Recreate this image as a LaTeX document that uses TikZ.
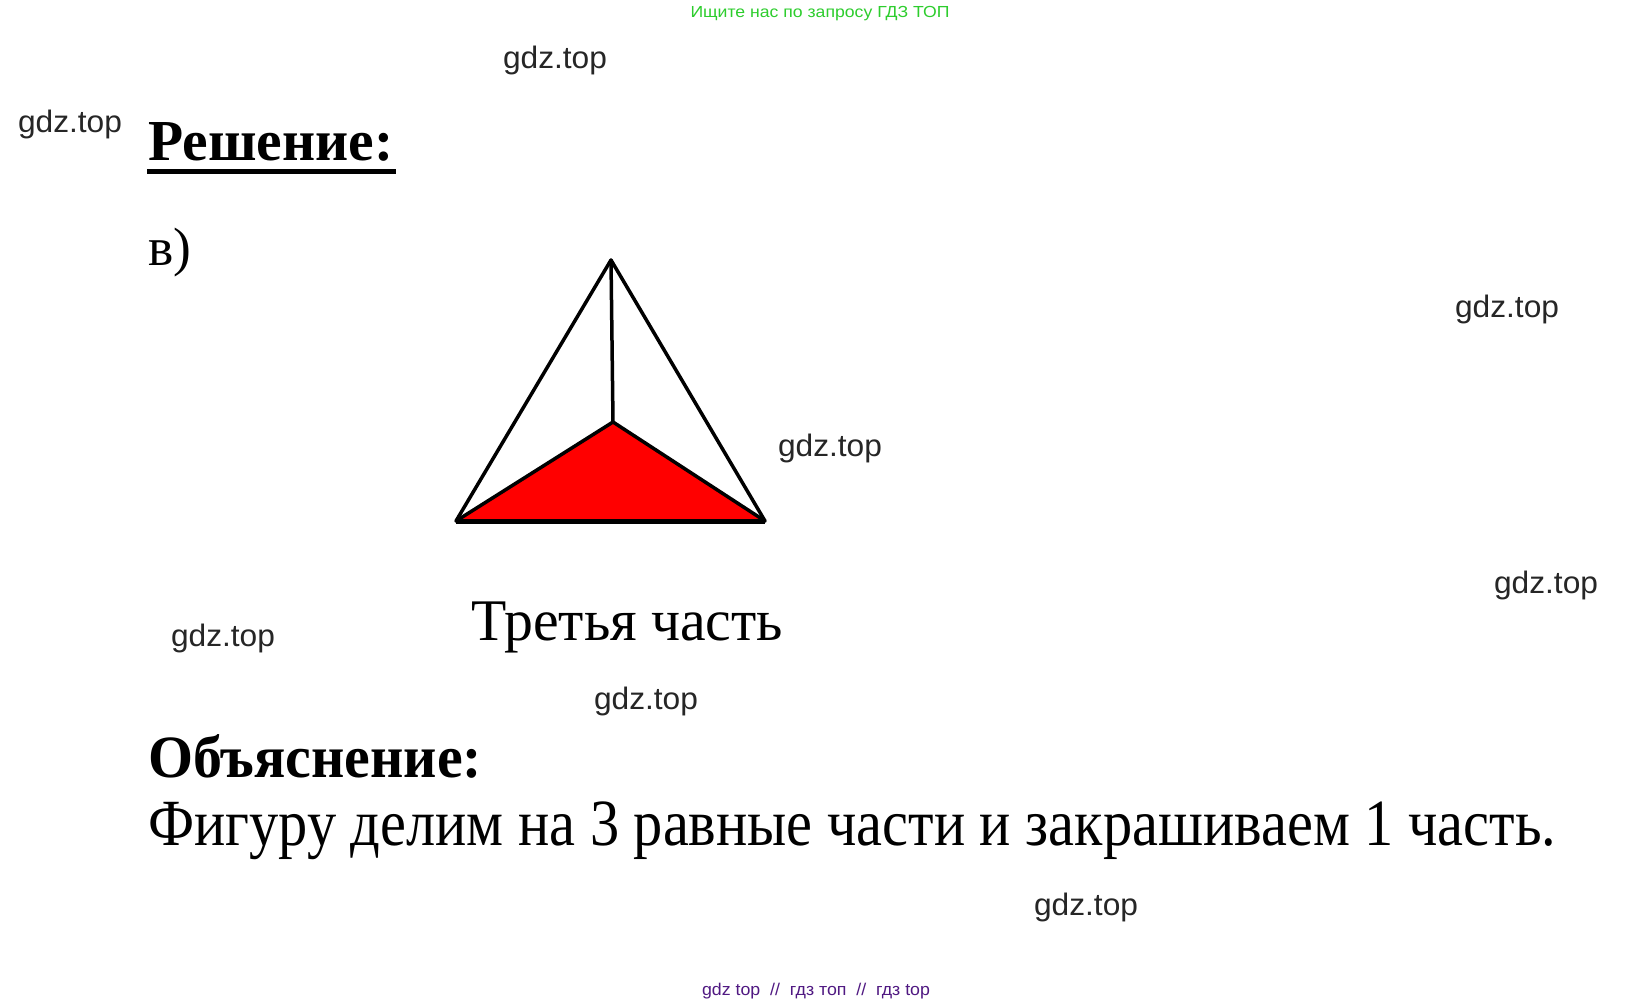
\documentclass[tikz,border=0pt]{standalone}
\usepackage{fontspec}
\setmainfont{Liberation Serif}
\newfontfamily\wmfont{Liberation Sans}
\usepackage{graphicx}
\newcommand\fitw[2]{\setbox0\hbox{#2}\edef\fitsc{\fpeval{#1/\wd0}}\scalebox{\fitsc}[1]{\box0}}
\definecolor{wmgreen}{RGB}{45,205,45}
\definecolor{wmpurple}{RGB}{80,25,130}
\tikzset{
  wm/.style={font=\wmfont\fontsize{31}{31}\selectfont, inner sep=0pt, text=black!85},
  txt/.style={anchor=base west, inner sep=0pt},
  edge/.style={line width=3.5pt, line cap=round, line join=round}
}
\newcommand\gdz{\fitw{104}{gdz.top}}
\begin{document}
\begin{tikzpicture}[x=1pt,y=-1pt]
\useasboundingbox (0,0) rectangle (1635,1005);
\fill[white] (0,0) rectangle (1635,1005);
% header / footer
\node[inner sep=0pt, text=wmgreen, font=\wmfont\fontsize{16}{16}\selectfont, anchor=base] (hdr) at (820,17) {\fitw{259}{Ищите нас по запросу ГДЗ ТОП}};
\node[inner sep=0pt, text=wmpurple, font=\wmfont\fontsize{17}{17}\selectfont, anchor=base] (ftr) at (816,995) {\fitw{228}{gdz top \ // \ гдз топ \ // \ гдз top}};
% watermarks
\node[wm] (w1) at (555,60) {\gdz};
\node[wm] (w2) at (70,124) {\gdz};
\node[wm] (w3) at (1507,309) {\gdz};
\node[wm] (w4) at (830,448) {\gdz};
\node[wm] (w5) at (1546,585) {\gdz};
\node[wm] (w6) at (223,638) {\gdz};
\node[wm] (w7) at (646,701) {\gdz};
\node[wm] (w8) at (1086,907) {\gdz};
% title
\node[txt, font=\fontsize{58}{58}\selectfont\bfseries] (t1) at (148,160) {\fitw{245}{Решение:}};
\coordinate (u1) at (147,171);
\coordinate (u2) at (396,171);
\draw[line width=5pt] (u1) -- (u2);
\node[txt, font=\fontsize{54}{54}\selectfont] (lab) at (148,265) {\fitw{43}{в)}};
% triangle
\coordinate (A) at (611,260);
\coordinate (L) at (456,521);
\coordinate (R) at (765,521);
\coordinate (O) at (613,422);
\fill[red] (L) -- (O) -- (R) -- cycle;
\draw[edge] (A) -- (L);
\draw[edge] (A) -- (R);
\draw[edge] (A) -- (O);
\draw[edge] (L) -- (O) -- (R);
\draw[line width=5pt] (L) -- (R);
% caption
\node[txt, font=\fontsize{59}{59}\selectfont] (cap) at (471,640) {\fitw{312}{Третья часть}};
\node[txt, font=\fontsize{60}{60}\selectfont\bfseries] (t2) at (148,777) {\fitw{334}{Объяснение:}};
\node[txt, font=\fontsize{66}{66}\selectfont] (expl) at (148,845) {\fitw{1408}{Фигуру делим на 3 равные части и закрашиваем 1 часть.}};
\end{tikzpicture}
\end{document}
